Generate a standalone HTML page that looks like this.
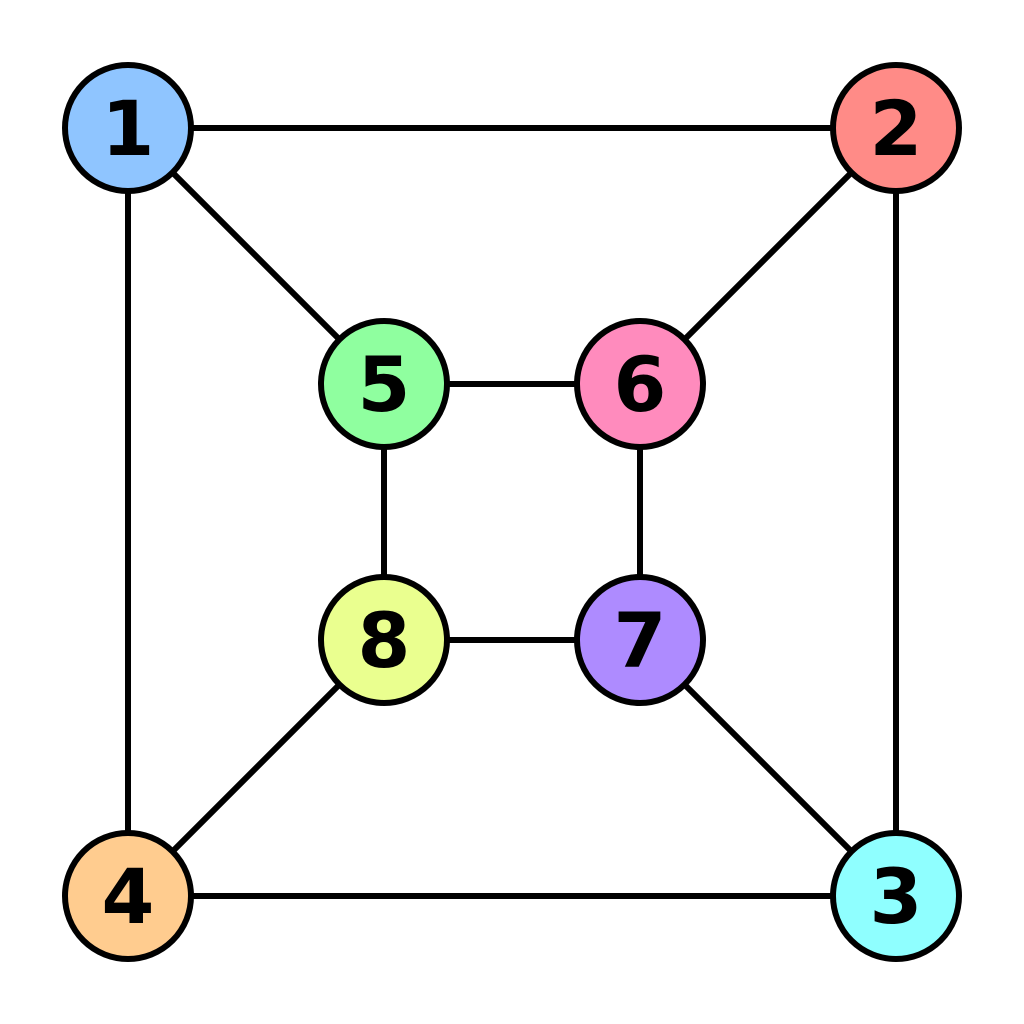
<!DOCTYPE html>
<html>
<head>
<meta charset="utf-8">
<style>
  html, body { margin: 0; padding: 0; background: #ffffff; }
  svg { display: block; }
</style>
</head>
<body>
<svg id="chart" width="1024" height="1024" viewBox="0 0 1024 1024">
  <g id="edges"></g>
  <g id="nodes"></g>
</svg>
<script>
// Node labels, grid positions (0..3 units), and fill colours
const nodeLabels = ["1", "2", "3", "4", "5", "6", "7", "8"];
const nodeGridX = [0, 3, 3, 0, 1, 2, 2, 1];
const nodeGridY = [0, 0, 3, 3, 1, 1, 2, 2];
const nodeColors = ["#8fc5ff", "#ff8b87", "#8fffff", "#ffcc8f", "#8fff9f", "#ff8bbd", "#ae8bff", "#eaff8f"];
// Edges as pairs of node indices
const edgeFrom = [0, 1, 2, 3, 4, 5, 6, 7, 0, 1, 2, 3];
const edgeTo   = [1, 2, 3, 0, 5, 6, 7, 4, 4, 5, 6, 7];

const NS = "http://www.w3.org/2000/svg";
function sx(u) { return 128 + u * 256; }
function sy(u) { return 128 + u * 256; }

const edgesG = document.getElementById("edges");
const nodesG = document.getElementById("nodes");

for (let i = 0; i < edgeFrom.length; i++) {
  const a = edgeFrom[i], b = edgeTo[i];
  const line = document.createElementNS(NS, "line");
  line.setAttribute("x1", sx(nodeGridX[a]));
  line.setAttribute("y1", sy(nodeGridY[a]));
  line.setAttribute("x2", sx(nodeGridX[b]));
  line.setAttribute("y2", sy(nodeGridY[b]));
  line.setAttribute("stroke", "#000");
  line.setAttribute("stroke-width", "6");
  
  
  edgesG.appendChild(line);
}

for (let i = 0; i < nodeLabels.length; i++) {
  const g = document.createElementNS(NS, "g");
  
  
  const c = document.createElementNS(NS, "circle");
  c.setAttribute("cx", sx(nodeGridX[i]));
  c.setAttribute("cy", sy(nodeGridY[i]));
  c.setAttribute("r", "63");
  c.setAttribute("fill", nodeColors[i]);
  c.setAttribute("stroke", "#000");
  c.setAttribute("stroke-width", "6");
  
  
  g.appendChild(c);
  const t = document.createElementNS(NS, "text");
  t.setAttribute("x", sx(nodeGridX[i]));
  t.setAttribute("y", sy(nodeGridY[i]) + 27);
  t.setAttribute("text-anchor", "middle");
  t.setAttribute("font-family", "'DejaVu Sans', 'Liberation Sans', sans-serif");
  t.setAttribute("font-weight", "bold");
  t.setAttribute("font-size", "76");
  t.setAttribute("fill", "#000");
  
  
  t.textContent = nodeLabels[i];
  g.appendChild(t);
  nodesG.appendChild(g);
}
</script>
</body>
</html>
